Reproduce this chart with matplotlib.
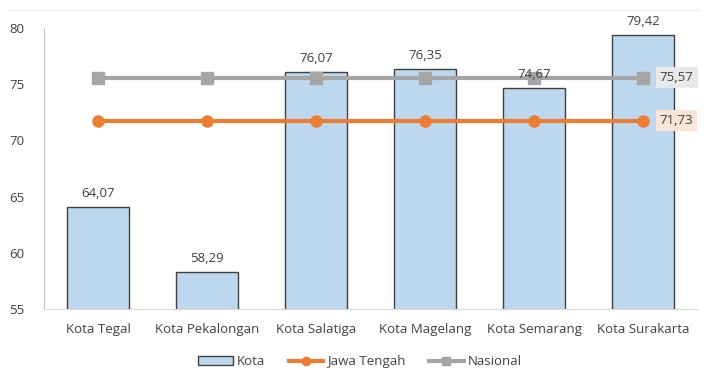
import matplotlib.pyplot as plt
import numpy as np

plt.rcParams['font.family'] = ['Open Sans', 'DejaVu Sans']

# IPM per kota
kota = ['Kota Tegal', 'Kota Pekalongan', 'Kota Salatiga', 'Kota Magelang',
        'Kota Semarang', 'Kota Surakarta']
nilai_kota = [64.07, 58.29, 76.07, 76.35, 74.67, 79.42]
jawa_tengah = [71.73] * 6
nasional = [75.57] * 6

def fmt(v):
    return f'{v:.2f}'.replace('.', ',')

fig = plt.figure(figsize=(7.06, 3.81), dpi=100)
ax = fig.add_axes([0.062, 0.189, 0.926, 0.7375])
x = np.arange(len(kota))

bars = ax.bar(x, nilai_kota, width=0.57, color='#bdd7ee', edgecolor='#404040',
              linewidth=1.0, label='Kota', zorder=2)
l1, = ax.plot(x, jawa_tengah, color='#ed7d31', lw=3, marker='o', ms=8,
              label='Jawa Tengah', zorder=3)
l2, = ax.plot(x, nasional, color='#a5a5a5', lw=3, marker='s', ms=8,
              label='Nasional', zorder=3)

for xi, v in zip(x, nilai_kota):
    ax.annotate(fmt(v), (xi, v), xytext=(0, 5), textcoords='offset points',
                ha='center', va='bottom', fontsize=9.5, color='#404040', zorder=4)

ax.annotate(fmt(nasional[-1]), (x[-1], nasional[-1]), xytext=(12, 0),
            textcoords='offset points', ha='left', va='center', fontsize=9.5,
            color='#404040', zorder=4,
            bbox=dict(boxstyle='square,pad=0.3', fc='#e9e9e9', ec='none'))
ax.annotate(fmt(jawa_tengah[-1]), (x[-1], jawa_tengah[-1]), xytext=(12, 0),
            textcoords='offset points', ha='left', va='center', fontsize=9.5,
            color='#404040', zorder=4,
            bbox=dict(boxstyle='square,pad=0.3', fc='#fbe5d6', ec='none'))

ax.set_ylim(55, 80)
ax.set_xlim(-0.5, len(kota) - 0.5)
ax.set_yticks([55, 60, 65, 70, 75, 80])
ax.set_xticks(x)
ax.set_xticklabels(kota)
ax.tick_params(axis='both', length=0, labelsize=9.5, colors='#404040')
ax.tick_params(axis='x', pad=10)
ax.tick_params(axis='y', pad=14)

for s in ['top', 'right']:
    ax.spines[s].set_visible(False)
ax.spines['left'].set_color('#bfbfbf')
ax.spines['bottom'].set_color('#d9d9d9')

leg = fig.legend([bars, l1, l2], ['Kota', 'Jawa Tengah', 'Nasional'],
                 loc='center', bbox_to_anchor=(0.51, 0.05), ncol=3, frameon=False,
                 fontsize=9.5, handlelength=2.6, columnspacing=1.8,
                 handletextpad=0.3, markerscale=0.75)
for t in leg.get_texts():
    t.set_color('#404040')

fig.add_artist(plt.Line2D([0.01, 0.99], [0.975, 0.975], color='#f0f0f0', lw=1))

fig.savefig('out.png', dpi=100, facecolor='white')
